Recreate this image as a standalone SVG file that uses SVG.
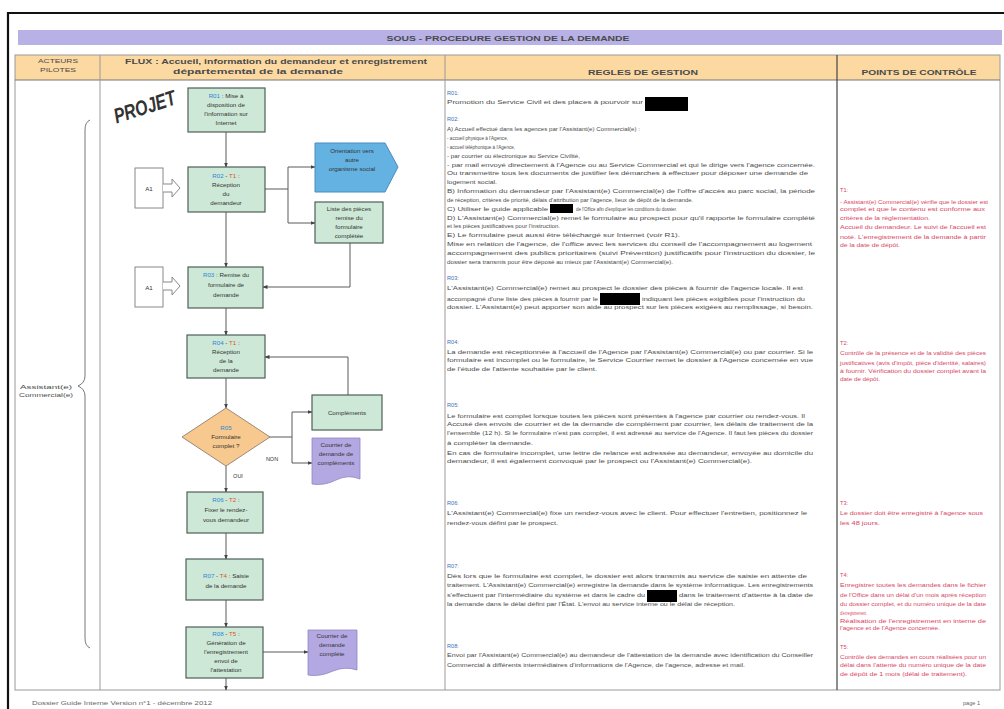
<svg xmlns="http://www.w3.org/2000/svg" width="1004" height="709" viewBox="0 0 1004 709">
<style>
text{font-family:"Liberation Sans",Arial,sans-serif}
.hd{font-size:7px;font-weight:bold;fill:#4a4a4a;text-anchor:middle}
.rt{font-size:5.6px;fill:#4a4a4a}
.rl{font-size:5.6px;fill:#3a6fb5}
.pc{font-size:5.6px;fill:#d9455f}
.nt{font-size:6.2px;fill:#333;text-anchor:middle}
.rb{fill:#2f86d6}
.tr{fill:#e0542e}
.box{fill:#cde8d6;stroke:#4f5f58;stroke-width:1.2}
.doc{fill:#b4a8e2;stroke:#8f86c0;stroke-width:0.8}
.ext{fill:#fff;stroke:#888;stroke-width:1}
.red{fill:#000}
.grid{stroke:#9a9a9a;stroke-width:1;fill:none}
#connectors path{fill:none;stroke:#5a5a5a;stroke-width:1}
</style>
<defs>
<marker id="ah" viewBox="0 0 10 10" refX="9" refY="5" markerWidth="5" markerHeight="5" orient="auto">
<path d="M0,1 L10,5 L0,9 Z" fill="#444"/>
</marker>
</defs>
<rect x="0" y="0" width="1004" height="709" fill="#fff"/>
<!-- page frame -->
<path d="M8,709 V13 H1004" fill="none" stroke="#111" stroke-width="2.2"/>
<!-- title bar -->
<rect x="18" y="30" width="984" height="15" fill="#b7b1e6"/>
<text x="508" y="41" class="hd" textLength="243" lengthAdjust="spacingAndGlyphs">SOUS - PROCEDURE GESTION DE LA DEMANDE</text>
<!-- table -->
<rect x="15" y="55" width="985" height="25" fill="#fdd9a2"/>
<rect x="15" y="55" width="985" height="635" class="grid"/>
<line x1="15" y1="80" x2="1000" y2="80" stroke="#777" stroke-width="1.2"/>
<line x1="100" y1="55" x2="100" y2="690" class="grid"/>
<line x1="445" y1="55" x2="445" y2="690" class="grid"/>
<line x1="837" y1="55" x2="837" y2="690" stroke="#444" stroke-width="1.2"/>
<text x="58" y="63" class="hd" style="font-size:6px;font-weight:normal" textLength="40" lengthAdjust="spacingAndGlyphs">ACTEURS</text>
<text x="58" y="72" class="hd" style="font-size:6px;font-weight:normal" textLength="36" lengthAdjust="spacingAndGlyphs">PILOTES</text>
<text x="276" y="64" class="hd" textLength="302" lengthAdjust="spacingAndGlyphs">FLUX : Accueil, information du demandeur et enregistrement</text>
<text x="258" y="74" class="hd" textLength="170" lengthAdjust="spacingAndGlyphs">départemental de la demande</text>
<text x="643" y="75" class="hd" textLength="110" lengthAdjust="spacingAndGlyphs">REGLES DE GESTION</text>
<text x="919" y="75" class="hd" textLength="115" lengthAdjust="spacingAndGlyphs">POINTS DE CONTRÔLE</text>

<!-- actors -->
<g id="actor">
<path d="M90,120 Q85,122 85,130 V376 Q85,383 78,386 Q85,389 85,396 V638 Q85,646 90,648" fill="none" stroke="#777" stroke-width="1"/>
<text x="46" y="389" class="rt" text-anchor="middle" textLength="52" lengthAdjust="spacingAndGlyphs">Assistant(e)</text>
<text x="46" y="397" class="rt" text-anchor="middle" textLength="54" lengthAdjust="spacingAndGlyphs">Commercial(e)</text>
</g>

<text x="145" y="114" transform="rotate(-18 145 108)" text-anchor="middle" style="font-size:21px;font-weight:bold;font-style:italic;fill:#333" textLength="64" lengthAdjust="spacingAndGlyphs">PROJET</text>

<!-- connectors -->
<g id="connectors">
<path d="M226,132 V167" marker-end="url(#ah)"/>
<path d="M226,212 V267" marker-end="url(#ah)"/>
<path d="M265,189 H288"/>
<path d="M288,167 V223"/>
<path d="M288,167 H315" marker-end="url(#ah)"/>
<path d="M288,223 H315" marker-end="url(#ah)"/>
<path d="M350,243 V287 H263" marker-end="url(#ah)"/>
<path d="M226,308 V335" marker-end="url(#ah)"/>
<path d="M348,395 V357 H265" marker-end="url(#ah)"/>
<path d="M226,378 V408" marker-end="url(#ah)"/>
<path d="M268,437 H292"/>
<path d="M292,412 V463"/>
<path d="M292,412 H312" marker-end="url(#ah)"/>
<path d="M292,463 H312" marker-end="url(#ah)"/>
<path d="M226,466 V492" marker-end="url(#ah)"/>
<path d="M226,533 V559" marker-end="url(#ah)"/>
<path d="M226,600 V627" marker-end="url(#ah)"/>
<path d="M263,652 H308" marker-end="url(#ah)"/>
<path d="M226,678 V690" marker-end="url(#ah)"/>
<text x="272" y="461" class="nt" style="font-size:5.5px">NON</text>
<text x="238" y="478" class="nt" style="font-size:5.5px">OUI</text>
</g>

<!-- nodes -->
<g id="R01">
<rect x="188" y="88" width="77" height="44" class="box"/>
<text x="226" y="98" class="nt"><tspan class="rb">R01</tspan> : Mise à</text>
<text x="226" y="107" class="nt">disposition de</text>
<text x="226" y="116" class="nt">l'information sur</text>
<text x="226" y="125" class="nt">Internet</text>
</g>
<g id="A1a">
<rect x="135" y="168" width="28" height="40" class="ext"/>
<text x="149" y="191" class="nt">A1</text>
<path d="M163,184 H172 V179 L180,188 L172,197 V192 H163" fill="#fff" stroke="#888" stroke-width="1"/>
</g>
<g id="R02">
<rect x="188" y="167" width="77" height="45" class="box"/>
<text x="226" y="178" class="nt"><tspan class="rb">R02</tspan> - <tspan class="tr">T1</tspan> :</text>
<text x="226" y="187" class="nt">Réception</text>
<text x="226" y="196" class="nt">du</text>
<text x="226" y="205" class="nt">demandeur</text>
</g>
<g id="orientation">
<polygon points="315,143 385,143 398,167 385,192 315,192" fill="#64b2e2" stroke="#4a8cc0" stroke-width="1"/>
<text x="352" y="153" class="nt">Orientation vers</text>
<text x="352" y="162" class="nt">autre</text>
<text x="352" y="171" class="nt">organisme social</text>
</g>
<g id="liste">
<rect x="315" y="202" width="68" height="41" class="box"/>
<text x="349" y="211" class="nt">Liste des pièces</text>
<text x="349" y="220" class="nt">remise du</text>
<text x="349" y="229" class="nt">formulaire</text>
<text x="349" y="238" class="nt">complétée</text>
</g>
<g id="A1b">
<rect x="135" y="267" width="28" height="40" class="ext"/>
<text x="149" y="290" class="nt">A1</text>
<path d="M163,282 H172 V277 L180,286 L172,295 V290 H163" fill="#fff" stroke="#888" stroke-width="1"/>
</g>
<g id="R03">
<rect x="188" y="267" width="75" height="41" class="box"/>
<text x="226" y="277" class="nt"><tspan class="rb">R03</tspan> : Remise du</text>
<text x="226" y="287" class="nt">formulaire de</text>
<text x="226" y="297" class="nt">demande</text>
</g>
<g id="R04">
<rect x="187" y="335" width="78" height="43" class="box"/>
<text x="226" y="345" class="nt"><tspan class="rb">R04</tspan> - <tspan class="tr">T1</tspan> :</text>
<text x="226" y="354" class="nt">Réception</text>
<text x="226" y="363" class="nt">de la</text>
<text x="226" y="372" class="nt">demande</text>
</g>
<g id="complements">
<rect x="312" y="395" width="70" height="35" class="box"/>
<text x="347" y="415" class="nt">Compléments</text>
</g>
<g id="R05">
<polygon points="226,408 270,437 226,466 182,437" fill="#f8c98e" stroke="#9a8a78" stroke-width="1"/>
<text x="226" y="430" class="nt"><tspan class="rb">R05</tspan></text>
<text x="226" y="439" class="nt">Formulaire</text>
<text x="226" y="448" class="nt">complet ?</text>
</g>
<g id="courrier1">
<path d="M312,438 H360 V479 Q348,474 336,480 Q324,486 312,484 Z" class="doc"/>
<text x="336" y="447" class="nt">Courrier de</text>
<text x="336" y="456" class="nt">demande de</text>
<text x="336" y="465" class="nt">compléments</text>
</g>
<g id="R06">
<rect x="187" y="492" width="76" height="41" class="box"/>
<text x="226" y="502" class="nt"><tspan class="rb">R06</tspan> - <tspan class="tr">T2</tspan> :</text>
<text x="226" y="512" class="nt">Fixer le rendez-</text>
<text x="226" y="522" class="nt">vous demandeur</text>
</g>
<g id="R07">
<rect x="186" y="559" width="77" height="41" class="box"/>
<text x="226" y="578" class="nt"><tspan class="rb">R07</tspan> - <tspan class="tr">T4</tspan> : Saisie</text>
<text x="226" y="588" class="nt">de la demande</text>
</g>
<g id="R08">
<rect x="186" y="627" width="77" height="51" class="box"/>
<text x="226" y="636" class="nt"><tspan class="rb">R08</tspan> - <tspan class="tr">T5</tspan> :</text>
<text x="226" y="645" class="nt">Génération de</text>
<text x="226" y="654" class="nt">l'enregistrement</text>
<text x="226" y="663" class="nt">envoi de</text>
<text x="226" y="672" class="nt">l'attestation</text>
</g>
<g id="courrier2">
<path d="M308,630 H357 V670 Q345,666 333,671 Q320,677 308,675 Z" class="doc"/>
<text x="332" y="638" class="nt">Courrier de</text>
<text x="332" y="647" class="nt">demande</text>
<text x="332" y="656" class="nt">complète</text>
</g>

<!-- REGLES DE GESTION -->
<g id="regles">
<text x="447" y="95" class="rl">R01:</text>
<text x="447" y="104" class="rt" textLength="196" lengthAdjust="spacingAndGlyphs">Promotion du Service Civil et des places à pourvoir sur</text>
<rect x="645" y="97" width="43" height="14" class="red"/>

<text x="447" y="121" class="rl">R02:</text>
<text x="447" y="131" class="rt" textLength="193" lengthAdjust="spacingAndGlyphs">A) Accueil effectué dans les agences par l'Assistant(e) Commercial(e) :</text>
<text x="447" y="140" class="rt" textLength="61" lengthAdjust="spacingAndGlyphs">- accueil physique à l'Agence,</text>
<text x="447" y="149" class="rt" textLength="68" lengthAdjust="spacingAndGlyphs">- accueil téléphonique à l'Agence,</text>
<text x="447" y="158" class="rt" textLength="133" lengthAdjust="spacingAndGlyphs">- par courrier ou électronique au Service Civilité,</text>
<text x="447" y="167" class="rt" textLength="368" lengthAdjust="spacingAndGlyphs">- par mail envoyé directement à l'Agence ou au Service Commercial et qui le dirige vers l'agence concernée.</text>
<text x="447" y="175" class="rt" textLength="361" lengthAdjust="spacingAndGlyphs">Ou transmettre tous les documents de justifier les démarches à effectuer pour déposer une demande de</text>
<text x="447" y="184" class="rt" textLength="50" lengthAdjust="spacingAndGlyphs">logement social.</text>
<text x="447" y="193" class="rt" textLength="368" lengthAdjust="spacingAndGlyphs">B) Information du demandeur par l'Assistant(e) Commercial(e) de l'offre d'accès au parc social, la période</text>
<text x="447" y="202" class="rt" textLength="246" lengthAdjust="spacingAndGlyphs">de réception, critères de priorité, délais d'attribution par l'agence, lieux de dépôt de la demande.</text>
<text x="447" y="211" class="rt" textLength="101" lengthAdjust="spacingAndGlyphs">C) Utiliser le guide applicable</text>
<rect x="550" y="204" width="23" height="9" class="red"/>
<text x="576" y="211" class="rt" textLength="101" lengthAdjust="spacingAndGlyphs">de l'Office afin d'expliquer les conditions du dossier.</text>
<text x="447" y="220" class="rt" textLength="368" lengthAdjust="spacingAndGlyphs">D) L'Assistant(e) Commercial(e) remet le formulaire au prospect pour qu'il rapporte le formulaire complété</text>
<text x="447" y="228" class="rt" textLength="113" lengthAdjust="spacingAndGlyphs">et les pièces justificatives pour l'instruction.</text>
<text x="447" y="237" class="rt" textLength="233" lengthAdjust="spacingAndGlyphs">E) Le formulaire peut aussi être téléchargé sur Internet (voir R1).</text>
<text x="447" y="246" class="rt" textLength="365" lengthAdjust="spacingAndGlyphs">Mise en relation de l'agence, de l'office avec les services du conseil de l'accompagnement au logement</text>
<text x="447" y="255" class="rt" textLength="368" lengthAdjust="spacingAndGlyphs">accompagnement des publics prioritaires (suivi Prévention) justificatifs pour l'instruction du dossier, le</text>
<text x="447" y="264" class="rt" textLength="226" lengthAdjust="spacingAndGlyphs">dossier sera transmis pour être déposé au mieux par l'Assistant(e) Commercial(e).</text>

<text x="447" y="280" class="rl">R03:</text>
<text x="447" y="290" class="rt" textLength="356" lengthAdjust="spacingAndGlyphs">L'Assistant(e) Commercial(e) remet au prospect le dossier des pièces à fournir de l'agence locale. Il est</text>
<text x="447" y="301" class="rt" textLength="151" lengthAdjust="spacingAndGlyphs">accompagné d'une liste des pièces à fournir par le</text>
<rect x="600" y="293" width="40" height="12" class="red"/>
<text x="642" y="301" class="rt" textLength="163" lengthAdjust="spacingAndGlyphs">indiquant les pièces exigibles pour l'instruction du</text>
<text x="447" y="309" class="rt" textLength="366" lengthAdjust="spacingAndGlyphs">dossier. L'Assistant(e) peut apporter son aide au prospect sur les pièces exigées au remplissage, si besoin.</text>

<text x="447" y="344" class="rl">R04:</text>
<text x="447" y="354" class="rt" textLength="366" lengthAdjust="spacingAndGlyphs">La demande est réceptionnée à l'accueil de l'Agence par l'Assistant(e) Commercial(e) ou par courrier. Si le</text>
<text x="447" y="362" class="rt" textLength="366" lengthAdjust="spacingAndGlyphs">formulaire est incomplet ou le formulaire, le Service Courrier remet le dossier à l'Agence concernée en vue</text>
<text x="447" y="371" class="rt" textLength="150" lengthAdjust="spacingAndGlyphs">de l'étude de l'attente souhaitée par le client.</text>

<text x="447" y="407" class="rl">R05:</text>
<text x="447" y="418" class="rt" textLength="358" lengthAdjust="spacingAndGlyphs">Le formulaire est complet lorsque toutes les pièces sont présentes à l'agence par courrier ou rendez-vous. Il</text>
<text x="447" y="426" class="rt" textLength="366" lengthAdjust="spacingAndGlyphs">Accusé des envois de courrier et de la demande de complément par courrier, les délais de traitement de la</text>
<text x="447" y="435" class="rt" textLength="366" lengthAdjust="spacingAndGlyphs">l'ensemble (12 h). Si le formulaire n'est pas complet, il est adressé au service de l'Agence. Il faut les pièces du dossier</text>
<text x="447" y="445" class="rt" textLength="86" lengthAdjust="spacingAndGlyphs">à compléter la demande.</text>
<text x="447" y="455" class="rt" textLength="366" lengthAdjust="spacingAndGlyphs">En cas de formulaire incomplet, une lettre de relance est adressée au demandeur, envoyée au domicile du</text>
<text x="447" y="463" class="rt" textLength="305" lengthAdjust="spacingAndGlyphs">demandeur, il est également convoqué par le prospect ou l'Assistant(e) Commercial(e).</text>

<text x="447" y="505" class="rl">R06:</text>
<text x="447" y="515" class="rt" textLength="360" lengthAdjust="spacingAndGlyphs">L'Assistant(e) Commercial(e) fixe un rendez-vous avec le client. Pour effectuer l'entretien, positionnez le</text>
<text x="447" y="525" class="rt" textLength="111" lengthAdjust="spacingAndGlyphs">rendez-vous défini par le prospect.</text>

<text x="447" y="568" class="rl">R07:</text>
<text x="447" y="578" class="rt" textLength="360" lengthAdjust="spacingAndGlyphs">Dès lors que le formulaire est complet, le dossier est alors transmis au service de saisie en attente de</text>
<text x="447" y="587" class="rt" textLength="366" lengthAdjust="spacingAndGlyphs">traitement. L'Assistant(e) Commercial(e) enregistre la demande dans le système informatique. Les enregistrements</text>
<text x="447" y="597" class="rt" textLength="198" lengthAdjust="spacingAndGlyphs">s'effectuent par l'intermédiaire du système et dans le cadre du</text>
<rect x="647" y="590" width="30" height="12" class="red"/>
<text x="679" y="597" class="rt" textLength="134" lengthAdjust="spacingAndGlyphs">dans le traitement d'attente à la date de</text>
<text x="447" y="606" class="rt" textLength="288" lengthAdjust="spacingAndGlyphs">la demande dans le délai défini par l'État. L'envoi au service interne ou le délai de réception.</text>

<text x="447" y="648" class="rl">R08:</text>
<text x="447" y="657" class="rt" textLength="366" lengthAdjust="spacingAndGlyphs">Envoi par l'Assistant(e) Commercial(e) au demandeur de l'attestation de la demande avec identification du Conseiller</text>
<text x="447" y="667" class="rt" textLength="298" lengthAdjust="spacingAndGlyphs">Commercial à différents intermédiaires d'informations de l'Agence, de l'agence, adresse et mail.</text>
</g>

<!-- POINTS DE CONTROLE -->
<g id="controles">
<text x="840" y="192" class="pc">T1:</text>
<text x="840" y="204" class="pc" textLength="148" lengthAdjust="spacingAndGlyphs">- Assistant(e) Commercial(e) vérifie que le dossier est</text>
<text x="840" y="211" class="pc" textLength="145" lengthAdjust="spacingAndGlyphs">complet et que le contenu est conforme aux</text>
<text x="840" y="220" class="pc" textLength="90" lengthAdjust="spacingAndGlyphs">critères de la réglementation.</text>
<text x="840" y="229" class="pc" textLength="146" lengthAdjust="spacingAndGlyphs">Accueil du demandeur. Le suivi de l'accueil est</text>
<text x="840" y="239" class="pc" textLength="146" lengthAdjust="spacingAndGlyphs">noté. L'enregistrement de la demande à partir</text>
<text x="840" y="247" class="pc" textLength="60" lengthAdjust="spacingAndGlyphs">de la date de dépôt.</text>

<text x="840" y="345" class="pc">T2:</text>
<text x="840" y="355" class="pc" textLength="146" lengthAdjust="spacingAndGlyphs">Contrôle de la présence et de la validité des pièces</text>
<text x="840" y="365" class="pc" textLength="146" lengthAdjust="spacingAndGlyphs">justificatives (avis d'impôt, pièce d'identité, salaires)</text>
<text x="840" y="373" class="pc" textLength="146" lengthAdjust="spacingAndGlyphs">à fournir. Vérification du dossier complet avant la</text>
<text x="840" y="381" class="pc" textLength="40" lengthAdjust="spacingAndGlyphs">date de dépôt.</text>

<text x="840" y="505" class="pc">T3:</text>
<text x="840" y="515" class="pc" textLength="143" lengthAdjust="spacingAndGlyphs">Le dossier doit être enregistré à l'agence sous</text>
<text x="840" y="525" class="pc" textLength="40" lengthAdjust="spacingAndGlyphs">les 48 jours.</text>

<text x="840" y="577" class="pc">T4:</text>
<text x="840" y="587" class="pc" textLength="146" lengthAdjust="spacingAndGlyphs">Enregistrer toutes les demandes dans le fichier</text>
<text x="840" y="597" class="pc" textLength="146" lengthAdjust="spacingAndGlyphs">de l'Office dans un délai d'un mois après réception</text>
<text x="840" y="606" class="pc" textLength="146" lengthAdjust="spacingAndGlyphs">du dossier complet, et du numéro unique de la date</text>
<text x="840" y="615" class="pc" textLength="27" lengthAdjust="spacingAndGlyphs">d'enregistrement.</text>
<text x="840" y="623" class="pc" textLength="146" lengthAdjust="spacingAndGlyphs">Réalisation de l'enregistrement en interne de</text>
<text x="840" y="630" class="pc" textLength="100" lengthAdjust="spacingAndGlyphs">l'agence et de l'Agence concernée.</text>

<text x="840" y="649" class="pc">T5:</text>
<text x="840" y="659" class="pc" textLength="146" lengthAdjust="spacingAndGlyphs">Contrôle des demandes en cours réalisées pour un</text>
<text x="840" y="667" class="pc" textLength="146" lengthAdjust="spacingAndGlyphs">délai dans l'attente du numéro unique de la date</text>
<text x="840" y="676" class="pc" textLength="127" lengthAdjust="spacingAndGlyphs">de dépôt de 1 mois (délai de traitement).</text>
</g>

<!-- footer -->
<text x="32" y="705" class="rt" style="fill:#666" textLength="180" lengthAdjust="spacingAndGlyphs">Dossier Guide Interne Version n°1 - décembre 2012</text>
<text x="963" y="705" class="rt" style="fill:#666">page 1</text>
</svg>
